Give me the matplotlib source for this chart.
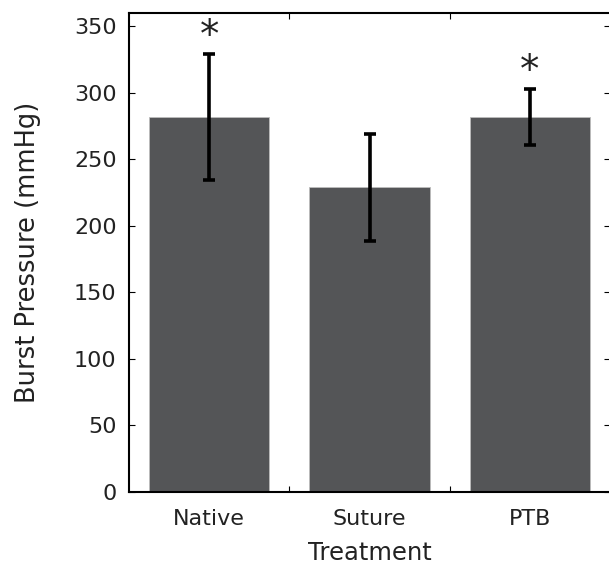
import matplotlib
matplotlib.use("Agg")
import matplotlib.pyplot as plt
import numpy as np

# values
treatments = ["Native", "Suture", "PTB"]
burst_mean = [282, 229, 282]
burst_err = [47.5, 40, 21]
significant = [True, False, True]

plt.rcParams['font.family'] = ['DejaVu Sans']
plt.rcParams['text.color'] = '#222222'
plt.rcParams['xtick.labelcolor'] = '#222222'
plt.rcParams['ytick.labelcolor'] = '#222222'
plt.rcParams['axes.labelcolor'] = '#222222'

fig = plt.figure(figsize=(6.09, 5.72), dpi=100)
ax = fig.add_axes([129 / 609, 1 - 492 / 572, 481 / 609, 479 / 572])

pos = np.arange(1, len(treatments) + 1)
ax.bar(pos, burst_mean, width=0.75, color='#545557', edgecolor='#bdbdbd',
       linewidth=0.6, zorder=2)
ax.errorbar(pos, burst_mean, yerr=burst_err, fmt='none', ecolor='black',
            elinewidth=2.6, capsize=4, capthick=2.6, zorder=3)

# significance stars above the error bars
for p, m, e, s in zip(pos, burst_mean, burst_err, significant):
    if s:
        ax.text(p, m + e - 1, '*', ha='center', va='bottom', fontsize=28)

ax.set_xlim(0.5, 3.5)
ax.set_ylim(0, 360)
ax.set_yticks(np.arange(0, 351, 50))
ax.set_xticks([1.5, 2.5])
ax.set_xticklabels([])
ax.set_xticks(pos, minor=True)
ax.set_xticklabels(treatments, minor=True)
ax.tick_params(axis='x', which='minor', length=0, pad=12, labelsize=16)
ax.tick_params(axis='both', which='major', direction='in', length=4,
               top=True, right=True, labelsize=16, width=0.8)
ax.tick_params(axis='y', pad=9)
for sp in ax.spines.values():
    sp.set_linewidth(1.5)

ax.set_ylabel('Burst Pressure (mmHg)', fontsize=18.5, labelpad=24)
ax.set_xlabel('Treatment', fontsize=17.5, labelpad=9)

fig.savefig('out.png', dpi=100)
